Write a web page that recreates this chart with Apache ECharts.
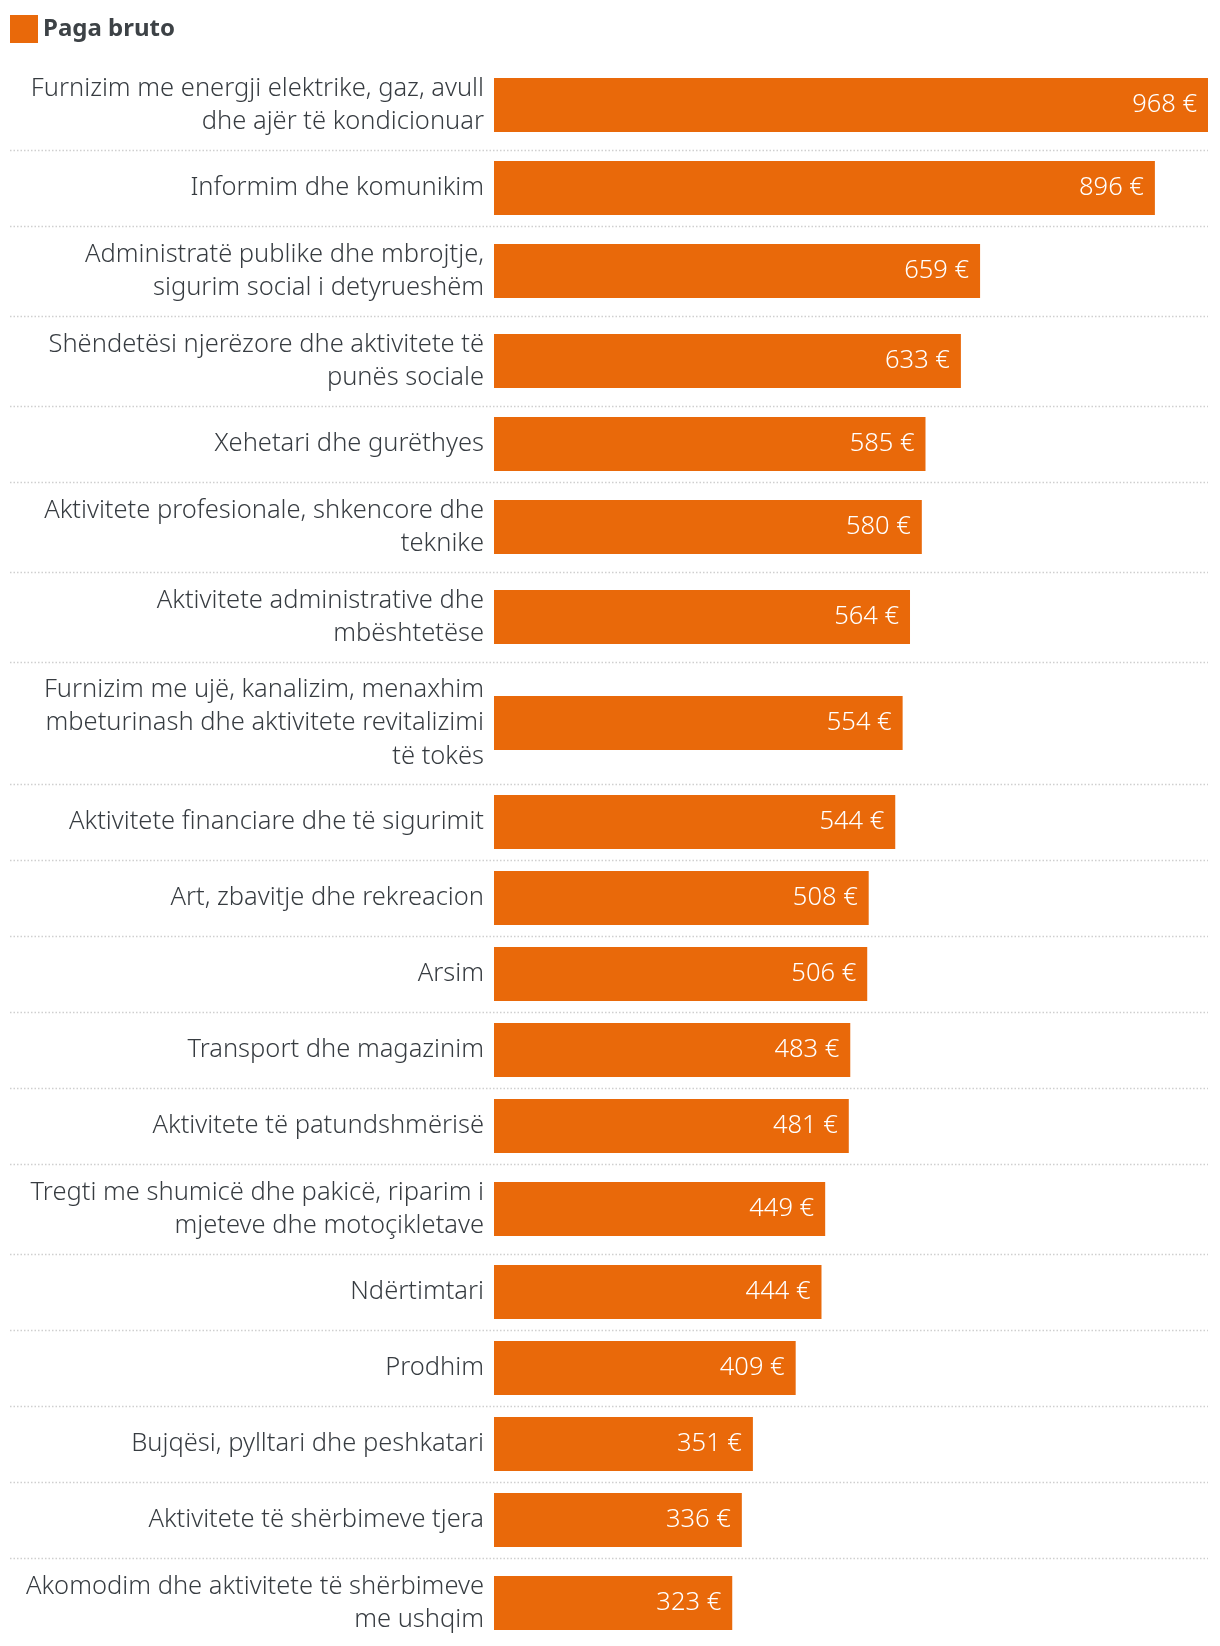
<!DOCTYPE html>
<html><head><meta charset="utf-8">
<script src="https://cdn.jsdelivr.net/npm/echarts@6/dist/echarts.min.js"></script>
<style>html,body{margin:0;padding:0;background:#fff}#chart{width:1220px;height:1646px}</style>
</head><body><div id="chart"></div>
<script>
const seriesName = 'Paga bruto';
const categories = [
  'Furnizim me energji elektrike, gaz, avull\ndhe ajër të kondicionuar',
  'Informim dhe komunikim',
  'Administratë publike dhe mbrojtje,\nsigurim social i detyrueshëm',
  'Shëndetësi njerëzore dhe aktivitete të\npunës sociale',
  'Xehetari dhe gurëthyes',
  'Aktivitete profesionale, shkencore dhe\nteknike',
  'Aktivitete administrative dhe\nmbështetëse',
  'Furnizim me ujë, kanalizim, menaxhim\nmbeturinash dhe aktivitete revitalizimi\ntë tokës',
  'Aktivitete financiare dhe të sigurimit',
  'Art, zbavitje dhe rekreacion',
  'Arsim',
  'Transport dhe magazinim',
  'Aktivitete të patundshmërisë',
  'Tregti me shumicë dhe pakicë, riparim i\nmjeteve dhe motoçikletave',
  'Ndërtimtari',
  'Prodhim',
  'Bujqësi, pylltari dhe peshkatari',
  'Aktivitete të shërbimeve tjera',
  'Akomodim dhe aktivitete të shërbimeve\nme ushqim'
];
const values = [968, 896, 659, 633, 585, 580, 564, 554, 544, 508, 506, 483, 481, 449, 444, 409, 351, 336, 323];

const BAR = '#e9690a';
const TEXT = '#373c41';
const FONT = 'Noto Sans';
const rowH = { 1: 76, 2: 90, 3: 122 };
const top0 = 60;
const gridLeft = 494;
const gridRight = 12;
const maxVal = Math.max.apply(null, values);

const grids = [], xAxes = [], yAxes = [], series = [], graphics = [];
let y = top0;
categories.forEach((c, i) => {
  const lines = c.split('\n').length;
  const h = rowH[lines];
  grids.push({ left: gridLeft, right: gridRight, top: y, height: h, outerBoundsMode: 'none', containLabel: false });
  xAxes.push({ gridIndex: i, type: 'value', min: 0, max: maxVal, show: false });
  yAxes.push({
    gridIndex: i, type: 'category', data: [c],
    axisLine: { show: false }, axisTick: { show: false }, splitLine: { show: false },
    axisLabel: { fontFamily: FONT, fontSize: 25.5, fontWeight: 300, lineHeight: 33.5, color: TEXT, margin: 10, align: 'right' }
  });
  series.push({
    name: seriesName, type: 'bar', xAxisIndex: i, yAxisIndex: i, data: [values[i]],
    barWidth: 54, itemStyle: { color: BAR }, animation: false,
    label: { show: true, position: 'insideRight', distance: 11, formatter: '{c} €',
             color: '#fff', fontFamily: FONT, fontSize: 25.5, fontWeight: 300 }
  });
  y += h;
  if (i < categories.length - 1) {
    graphics.push({ type: 'line', silent: true,
      shape: { x1: 10, y1: y + 0.5, x2: 1208, y2: y + 0.5 },
      style: { stroke: '#cfcfcf', lineWidth: 1.5, lineDash: [1.5, 2] } });
  }
});

const chart = echarts.init(document.getElementById('chart'), null, { renderer: 'canvas' });
chart.setOption({
  animation: false,
  legend: {
    data: [{ name: seriesName, icon: 'rect' }], left: 10, top: 15, padding: 0,
    itemWidth: 28, itemHeight: 28, itemGap: 6,
    textStyle: { fontFamily: FONT, fontSize: 24, fontWeight: 'bold', color: '#3d4246' }
  },
  grid: grids, xAxis: xAxes, yAxis: yAxes, series: series, graphic: graphics
});
</script></body></html>
